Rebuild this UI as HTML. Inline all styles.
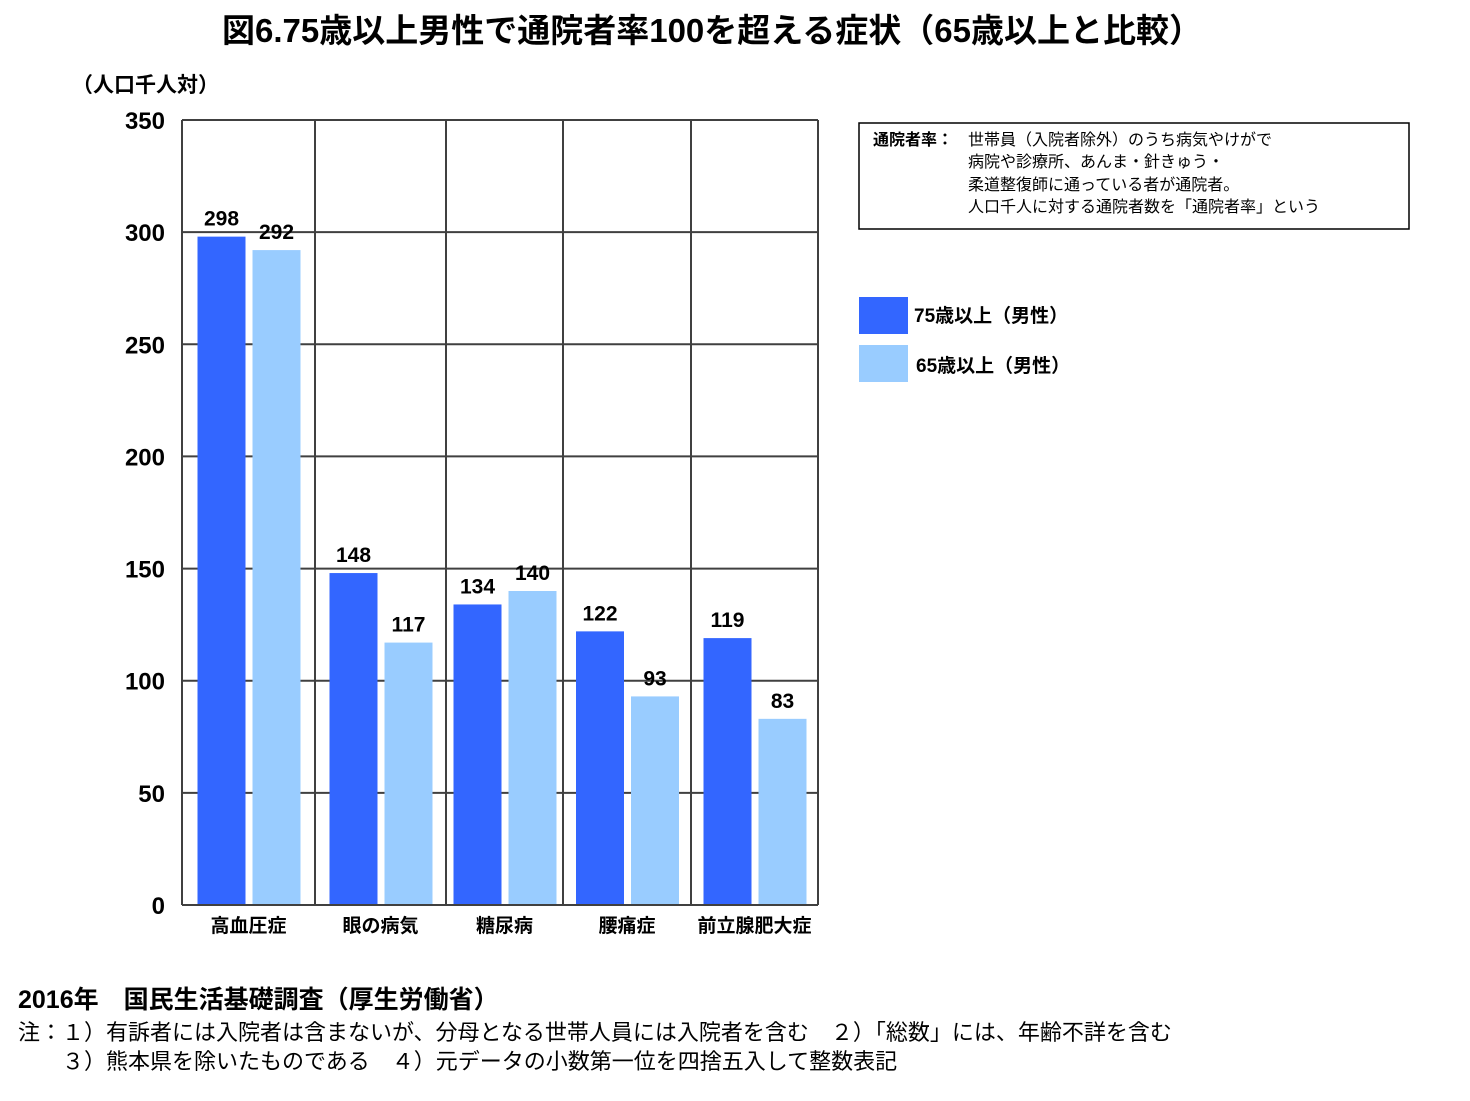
<!DOCTYPE html>
<html><head><meta charset="utf-8">
<style>
body{margin:0;background:#fff;width:1470px;height:1096px;overflow:hidden;font-family:"Liberation Sans","Noto Sans CJK JP",sans-serif;}
svg text{font-family:"Liberation Sans","Noto Sans CJK JP",sans-serif;}
</style></head>
<body>
<svg id="chart" width="1470" height="1096" xmlns="http://www.w3.org/2000/svg">
<text x="712" y="42" text-anchor="middle" font-size="33" font-weight="bold">図6.75歳以上男性で通院者率100を超える症状（65歳以上と比較）</text>
<text x="72" y="92" font-size="21" font-weight="bold">（人口千人対）</text>
<g id="grid"></g>
<g id="bars"></g>
<g id="labels"></g>
<g>
<rect x="859" y="123" width="550" height="106" fill="none" stroke="#000" stroke-width="1.5"/>
<text x="873" y="145" font-size="16" font-weight="bold">通院者率：</text>
<text x="968" y="145" font-size="16">世帯員（入院者除外）のうち病気やけがで</text>
<text x="968" y="167" font-size="16">病院や診療所、あんま・針きゅう・</text>
<text x="968" y="190" font-size="16">柔道整復師に通っている者が通院者。</text>
<text x="968" y="212" font-size="16">人口千人に対する通院者数を「通院者率」という</text>
</g>
<g>
<rect x="859" y="297" width="49" height="37" fill="#3366ff"/>
<text x="914" y="322" font-size="19" font-weight="bold">75歳以上（男性）</text>
<rect x="859" y="345" width="49" height="37" fill="#99ccff"/>
<text x="916" y="372" font-size="19" font-weight="bold">65歳以上（男性）</text>
</g>
<text x="18" y="1008" font-size="25" font-weight="bold">2016年　国民生活基礎調査（厚生労働省）</text>
<text x="18" y="1040" font-size="22">注：１）有訴者には入院者は含まないが、分母となる世帯人員には入院者を含む　２）「総数」には、年齢不詳を含む</text>
<text x="18" y="1069" font-size="22">　　３）熊本県を除いたものである　４）元データの小数第一位を四捨五入して整数表記</text>
</svg>
<script>
const categories=["高血圧症","眼の病気","糖尿病","腰痛症","前立腺肥大症"];
const series75=[298,148,134,122,119];
const series65=[292,117,140,93,83];
const yTicks=[0,50,100,150,200,250,300,350];
const NS="http://www.w3.org/2000/svg";
const x0=182,x1=818,yTop=120,yBot=905,yMax=350;
const vlines=[182,315,446,563,691,818];
function y(v){return yBot-(v/yMax)*(yBot-yTop);}
function mk(t,a,p){const e=document.createElementNS(NS,t);for(const k in a)e.setAttribute(k,a[k]);p.appendChild(e);return e;}
const grid=document.getElementById('grid'),bars=document.getElementById('bars'),labels=document.getElementById('labels');
yTicks.forEach(t=>{
 const l=mk('line',{x1:x0,x2:x1,y1:y(t),y2:y(t),stroke:'#404040','stroke-width':2},grid);
 
 
 const tx=mk('text',{x:165,y:y(t)+9,'text-anchor':'end','font-size':24,'font-weight':'bold'},labels);
 tx.textContent=t;
 
 
});
vlines.forEach((vx,i)=>{
 const l=mk('line',{x1:vx,x2:vx,y1:yTop,y2:yBot,stroke:'#404040','stroke-width':2},grid);
 
 
});
const bw=48;
categories.forEach((c,i)=>{
 const cx=(vlines[i]+vlines[i+1])/2;
 [[series75[i],'#3366ff',cx-51,'75'],[series65[i],'#99ccff',cx+4,'65']].forEach(([v,col,bx,s])=>{
  const r=mk('rect',{x:bx,y:y(v),width:bw,height:yBot-1-y(v),fill:col},bars);
  
  
  const t=mk('text',{x:bx+bw/2,y:y(v)-11,'text-anchor':'middle','font-size':21,'font-weight':'bold'},labels);
  t.textContent=v;
  
  
 });
 const ct=mk('text',{x:cx,y:932,'text-anchor':'middle','font-size':19,'font-weight':'bold'},labels);
 ct.textContent=c;
 
 
});
</script>
</body></html>
